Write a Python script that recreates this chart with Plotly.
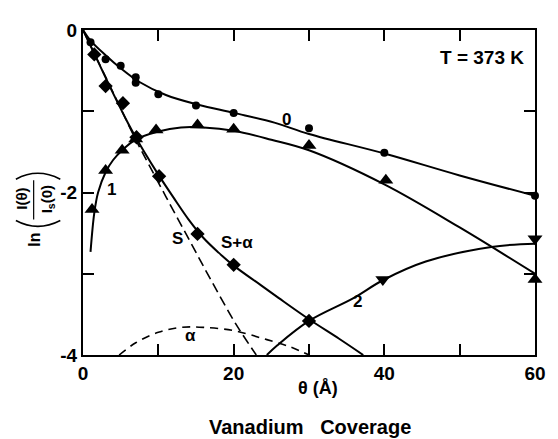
import plotly.graph_objects as go

# ---------------- data ----------------
# measured points
theta_0 = [1, 3, 5, 7, 7, 10, 15, 20, 30, 40, 60]
ln_0 = [-0.15, -0.36, -0.44, -0.58, -0.65, -0.79, -0.93, -1.02, -1.21, -1.51, -2.04]

theta_s = [1.5, 3, 5.3, 7.1, 10.1, 15.2, 20.0, 30]
ln_s = [-0.30, -0.69, -0.90, -1.32, -1.80, -2.51, -2.89, -3.58]

theta_1 = [1.2, 3, 5.2, 7, 9.7, 15.2, 20, 30, 40.2, 60]
ln_1 = [-2.21, -1.73, -1.48, -1.34, -1.23, -1.17, -1.22, -1.42, -1.85, -3.07]

theta_2 = [39.8, 60]
ln_2 = [-3.07, -2.57]

# hand-drawn fitted curves
fit0_x = [0, 1, 3, 5, 7.5, 11, 15.3, 20, 25.4, 30, 40, 50, 60]
fit0_y = [0, -0.13, -0.31, -0.47, -0.64, -0.80, -0.92, -1.02, -1.14, -1.28, -1.52, -1.79, -2.04]

fit1_x = [1, 1.5, 2, 3, 4, 5.2, 7, 10, 13, 16, 20, 25, 30, 40, 50, 60]
fit1_y = [-2.73, -2.25, -2.0, -1.75, -1.6, -1.48, -1.35, -1.25, -1.2, -1.2, -1.24, -1.35, -1.48, -1.9, -2.43, -3.0]

fitsa_x = [0, 2, 4, 6, 7, 8, 10, 12, 14, 16, 18, 20, 23.6, 26, 30, 34, 37.2]
fitsa_y = [0, -0.39, -0.78, -1.15, -1.32, -1.48, -1.78, -2.06, -2.33, -2.56, -2.74, -2.90, -3.14, -3.30, -3.56, -3.80, -4.0]

fits_x = [0, 4, 7, 8.3, 11, 14.2, 17, 20.3, 23]
fits_y = [0, -0.77, -1.35, -1.58, -2.05, -2.60, -3.08, -3.62, -4.0]

fita_x = [4.8, 7, 10, 13, 16, 20, 24, 27.5, 30]
fita_y = [-4.0, -3.85, -3.72, -3.66, -3.66, -3.70, -3.80, -3.90, -4.0]

fit2_x = [24.4, 25.8, 30, 35.9, 39.8, 45.5, 54.2, 60]
fit2_y = [-4.0, -3.88, -3.58, -3.30, -3.08, -2.85, -2.67, -2.63]

x_ticks = [0, 10, 20, 30, 40, 50, 60]
x_ticktext = ["0", " ", "20", " ", "40", " ", "60"]
y_ticks = [0, -1, -2, -3, -4]
y_ticktext = ["0", " ", "-2", " ", "-4"]

# ---------------- figure ----------------
FONT = "Liberation Sans, Arial, Helvetica, sans-serif"
OFF = 8                      # default page margin of the html body
W, H = 558 - OFF, 439 - OFF
L, R, T, B = 83 - OFF, 17, 24 - OFF, 84

fig = go.Figure()

def line(x, y, dash="solid", width=2):
    fig.add_trace(go.Scatter(x=x, y=y, mode="lines", line_shape="spline",
                             line=dict(color="black", width=width, dash=dash),
                             hoverinfo="skip", showlegend=False))

line(fit0_x, fit0_y)
line(fit1_x, fit1_y)
line(fitsa_x, fitsa_y)
line(fits_x, fits_y, dash="10px,5px", width=1.6)
line(fita_x, fita_y, dash="8px,6px", width=1.6)
line(fit2_x, fit2_y)

def pts(x, y, symbol, size):
    fig.add_trace(go.Scatter(x=x, y=y, mode="markers", cliponaxis=False,
                             marker=dict(symbol=symbol, size=size, color="black",
                                         line=dict(width=0)),
                             showlegend=False))

pts(theta_0, ln_0, "circle", 8)
pts(theta_s, ln_s, "diamond", 11)
pts(theta_1, ln_1, "triangle-up", 13)
pts(theta_2, ln_2, "triangle-down", 13)

axis_common = dict(showline=True, linewidth=2, linecolor="black", mirror="ticks",
                   ticks="inside", ticklen=11, tickwidth=2, tickcolor="black",
                   showgrid=False, zeroline=False,
                   tickfont=dict(family=FONT, size=19, color="black", weight="bold"))

fig.update_xaxes(range=[0, 60], tickvals=x_ticks, ticktext=x_ticktext, **axis_common)
fig.update_yaxes(range=[-4, 0], tickvals=y_ticks, ticktext=y_ticktext, **axis_common)

def px2paper(px, py):
    # page pixel -> paper fraction
    return (px - OFF - L) / (W - L - R), (H - B - (py - OFF)) / (H - T - B)

def note(text, x, y, size=17, ref="data", angle=0):
    if ref == "paper":
        x, y = px2paper(x, y)
        xr, yr = "paper", "paper"
    else:
        xr, yr = "x", "y"
    fig.add_annotation(text=text, x=x, y=y, xref=xr, yref=yr, showarrow=False,
                       textangle=angle, xanchor="center", yanchor="middle",
                       font=dict(family=FONT, size=size, color="black", weight="bold"))

# curve labels
note("0", 27.0, -1.10)
note("1", 3.8, -1.96)
note("S", 12.6, -2.57)
note("S+α", 20.4, -2.61)
note("α", 14.3, -3.76)
note("2", 36.4, -3.34)
note("T\u00a0=\u00a0373\u00a0K", 52.9, -0.34, size=19)

# axis titles
note("θ\u00a0(Å)", 321, 389, size=18, ref="paper")
note("Vanadium\u00a0\u00a0\u00a0Coverage", 313, 428, size=20, ref="paper")

# y-axis label built as ln[ I(θ) / Is(0) ], rotated
note("ln", 33, 238, size=16, ref="paper", angle=-90)
note("I(θ)", 21, 196, size=15, ref="paper", angle=-90)
note("I<sub>s</sub>(0)", 47, 196, size=15, ref="paper", angle=-90)
x1, y1 = px2paper(33, 177)
x2, y2 = px2paper(33, 217)
fig.add_shape(type="line", xref="paper", yref="paper", x0=x1, y0=y1, x1=x2, y1=y2,
              line=dict(color="black", width=1.2))
# big brackets (rotated parentheses)
a0 = px2paper(15, 176); am = px2paper(37, 164); a1 = px2paper(60, 176)
fig.add_shape(type="path", xref="paper", yref="paper",
              path=f"M {a0[0]},{a0[1]} Q {am[0]},{am[1]} {a1[0]},{a1[1]}",
              line=dict(color="black", width=1.5))
b0 = px2paper(15, 218); bm = px2paper(37, 230); b1 = px2paper(60, 218)
fig.add_shape(type="path", xref="paper", yref="paper",
              path=f"M {b0[0]},{b0[1]} Q {bm[0]},{bm[1]} {b1[0]},{b1[1]}",
              line=dict(color="black", width=1.5))

fig.update_layout(width=W, height=H, margin=dict(l=L, r=R, t=T, b=B),
                  paper_bgcolor="white", plot_bgcolor="white", showlegend=False)

fig.write_html("out.html")
